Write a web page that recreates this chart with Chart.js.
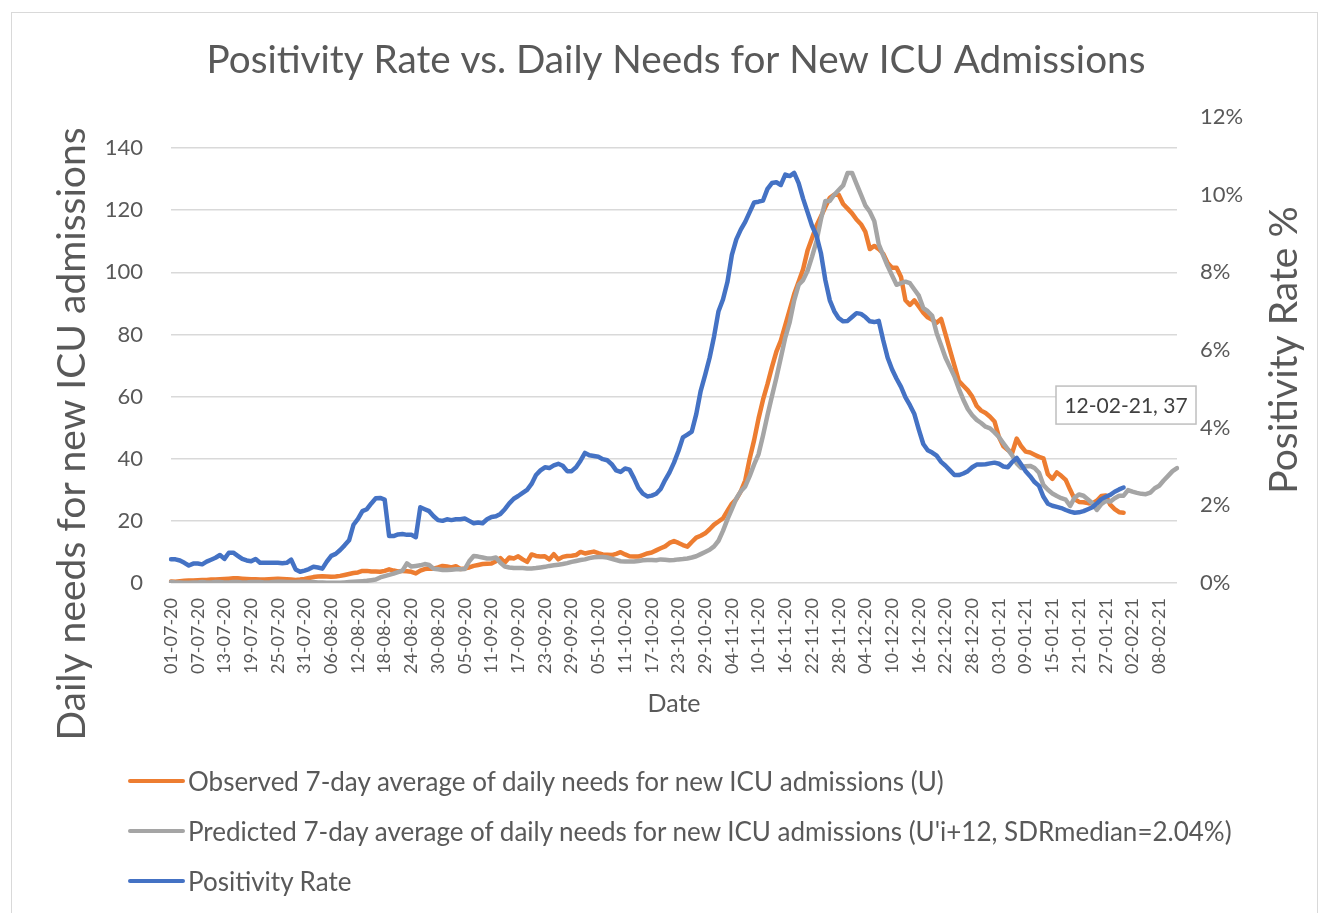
<!DOCTYPE html>
<html>
<head>
<meta charset="utf-8">
<script src="https://cdn.jsdelivr.net/npm/chart.js@4.4.1/dist/chart.umd.min.js"></script>
<style>
  html, body { margin: 0; padding: 0; background: #fff; }
  #wrap { position: relative; width: 1329px; height: 913px; overflow: hidden; }
  #frame { position: absolute; left: 11px; top: 12px; width: 1307px; height: 940px; border: 1.5px solid #d9d9d9; box-sizing: border-box; }
  #myChart { position: absolute; left: 0; top: 0; }
  #legend { position: absolute; left: 128px; top: 756px; font-family: Lato, sans-serif; font-size: 26px; color: #595959; }
  .item { height: 50px; display: flex; align-items: center; white-space: nowrap; }
  .swatch { width: 57px; height: 4px; border-radius: 2px; margin-right: 3px; }
</style>
</head>
<body>
<div id="wrap">
  <div id="frame"></div>
  <canvas id="myChart" width="1329" height="913"></canvas>
  <div id="legend"></div>
</div>
<script>
// dates: one per day, 01-07-20 .. 12-02-21
let dates = [];
for (let i = 0; i < 227; i++) {
  const d = new Date(Date.UTC(2020, 6, 1 + i));
  const dd = String(d.getUTCDate()).padStart(2, "0");
  const mm = String(d.getUTCMonth() + 1).padStart(2, "0");
  const yy = String(d.getUTCFullYear()).slice(2);
  dates.push(dd + "-" + mm + "-" + yy);
}

let seriesNames = [
  "Observed 7-day average of daily needs for new ICU admissions (U)",
  "Predicted 7-day average of daily needs for new ICU admissions (U'i+12, SDRmedian=2.04%)",
  "Positivity Rate",
];

// observed ICU needs (01-07-20 .. 31-01-21)
let observed = [
  0.5, 0.4, 0.6, 0.7, 0.8, 0.8, 0.9, 1.0, 1.0, 1.1,
  1.1, 1.2, 1.3, 1.4, 1.5, 1.5, 1.4, 1.3, 1.2, 1.2,
  1.1, 1.1, 1.2, 1.3, 1.4, 1.3, 1.2, 1.1, 1.0, 1.1,
  1.3, 1.6, 1.9, 2.1, 2.2, 2.1, 2.0, 2.1, 2.3, 2.6,
  2.9, 3.2, 3.4, 3.9, 3.9, 3.7, 3.7, 3.6, 3.9, 4.4,
  4.0, 3.7, 3.9, 3.8, 3.6, 3.1, 4.0, 4.5, 4.7, 4.6,
  5.0, 5.5, 5.3, 5.0, 5.4, 4.5, 4.7, 5.0, 5.5, 5.8,
  6.1, 6.2, 6.3, 7.0, 8.0, 6.6, 8.2, 7.9, 8.6, 7.6,
  6.8, 9.2, 8.7, 8.5, 8.6, 7.6, 9.3, 7.6, 8.4, 8.7,
  8.8, 9.0, 10.0, 9.5, 9.8, 10.1, 9.6, 9.2, 9.1, 9.0,
  9.4, 9.9, 9.2, 8.6, 8.5, 8.5, 9.0, 9.5, 9.8, 10.5,
  11.2, 11.8, 12.9, 13.5, 12.9, 12.2, 11.7, 13.2, 14.6, 15.2,
  16.0, 17.3, 18.8, 19.8, 20.8, 23.2, 25.5, 27.0, 29.5, 33.0,
  40, 46, 53, 59, 64, 69.5, 74.5, 78, 83, 88,
  93, 97, 101, 107, 111, 115, 118, 121, 124, 125,
  125, 122, 120.5, 119, 117, 115.5, 113, 107.5, 108.5, 107.5,
  106, 103, 101.5, 101.5, 98.5, 91, 89.5, 91, 89, 87,
  85.5, 84.7, 83.8, 85, 80, 75, 70, 65, 63.5, 62,
  60, 57, 55.5, 54.7, 53.5, 52, 47, 44, 42.8, 42,
  46.5, 44, 42.3, 42, 41.3, 40.6, 40.1, 35, 33.5, 35.6,
  34.5, 33.2, 30, 27, 26.1, 26, 25.7, 25.6, 26.5, 28,
  28.2, 25.2, 23.8, 22.8, 22.6,
];

// predicted ICU needs (01-07-20 .. 12-02-21)
let predicted = [
  0.3, 0.2, 0.2, 0.1, 0.1, 0.2, 0.2, 0.3, 0.2, 0.2,
  0.3, 0.3, 0.2, 0.2, 0.3, 0.3, 0.2, 0.2, 0.3, 0.3,
  0.3, 0.2, 0.2, 0.3, 0.4, 0.4, 0.3, 0.3, 0.3, 0.4,
  0.4, 0.3, 0.3, 0.2, 0.2, 0.1, 0.1, 0.1, 0.1, 0.2,
  0.3, 0.4, 0.5, 0.6, 0.7, 0.9, 1.1, 1.8, 2.2, 2.6,
  3.0, 3.5, 4.0, 6.3, 5.3, 5.5, 5.7, 6.1, 5.8, 4.6,
  4.4, 4.2, 4.2, 4.3, 4.4, 4.4, 4.5, 7.0, 8.7, 8.5,
  8.2, 7.9, 7.9, 8.2, 6.5, 5.3, 5.0, 4.8, 4.8, 4.8,
  4.7, 4.7, 4.8, 5.0, 5.2, 5.5, 5.7, 5.9, 6.1, 6.4,
  6.8, 7.1, 7.4, 7.6, 8.0, 8.3, 8.4, 8.4, 8.2, 7.8,
  7.4, 7.0, 6.9, 6.9, 6.9, 7.1, 7.3, 7.4, 7.4, 7.3,
  7.6, 7.5, 7.3, 7.4, 7.6, 7.7, 7.9, 8.2, 8.6, 9.3,
  10.0, 10.7, 11.8, 13.6, 16.8, 20.5, 23.8, 27.2, 29.5, 31.1,
  34.4, 38.2, 41.5, 47.5, 54.0, 60.1, 66.1, 72.5, 79, 84,
  91, 96, 97.5, 100.5, 105, 110, 117, 123, 123, 125,
  126.5, 128, 132, 132, 128.5, 125, 121.5, 119.5, 116.5, 109,
  105.5, 102, 99, 96, 96.5, 97, 96.5, 94.5, 92.5, 88.5,
  87.5, 86, 80.5, 76.5, 72.5, 69.5, 66.5, 62.5, 59, 56,
  54, 52.5, 51.5, 50.3, 49.8, 48.5, 47, 45, 43, 41,
  38.5, 37, 37.6, 37.7, 37, 35.5, 31.5, 30, 28.8, 28,
  27.3, 26.8, 24.8, 27.5, 28.5, 28.1, 26.9, 25.7, 23.5, 25.4,
  26.4, 26.2, 27.3, 28.1, 28.1, 29.9, 29.4, 29, 28.7, 28.6,
  29.1, 30.5, 31.3, 33, 34.5, 36, 37,
];

// positivity rate in % (01-07-20 .. 31-01-21)
let positivity = [
  0.61, 0.61, 0.58, 0.52, 0.45, 0.50, 0.50, 0.48, 0.55, 0.60,
  0.65, 0.72, 0.62, 0.78, 0.78, 0.70, 0.62, 0.58, 0.56, 0.62,
  0.52, 0.52, 0.52, 0.52, 0.52, 0.51, 0.52, 0.60, 0.35, 0.29,
  0.32, 0.36, 0.42, 0.40, 0.37, 0.55, 0.70, 0.75, 0.85, 0.97,
  1.10, 1.50, 1.65, 1.85, 1.90, 2.05, 2.18, 2.19, 2.15, 1.21,
  1.21, 1.25, 1.26, 1.24, 1.24, 1.18, 1.95, 1.90, 1.85, 1.72,
  1.62, 1.60, 1.64, 1.62, 1.64, 1.64, 1.66, 1.60, 1.54, 1.56,
  1.54, 1.64, 1.70, 1.72, 1.78, 1.90, 2.05, 2.17, 2.24, 2.32,
  2.40, 2.55, 2.78, 2.90, 2.98, 2.96, 3.03, 3.07, 3.02, 2.88,
  2.88, 2.98, 3.15, 3.35, 3.29, 3.27, 3.25, 3.19, 3.16, 3.06,
  2.90, 2.86, 2.95, 2.92, 2.70, 2.45, 2.30, 2.23, 2.25, 2.30,
  2.42, 2.65, 2.85, 3.10, 3.40, 3.75, 3.82, 3.90, 4.35, 4.95,
  5.36, 5.80, 6.35, 7.00, 7.30, 7.75, 8.45, 8.85, 9.10, 9.30,
  9.55, 9.80, 9.82, 9.85, 10.15, 10.30, 10.32, 10.25, 10.52, 10.48,
  10.56, 10.30, 9.90, 9.55, 9.20, 8.95, 8.50, 7.80, 7.28, 7.00,
  6.82, 6.74, 6.75, 6.85, 6.95, 6.93, 6.85, 6.74, 6.72, 6.75,
  6.25, 5.80, 5.50, 5.26, 5.05, 4.78, 4.58, 4.35, 3.95, 3.58,
  3.42, 3.36, 3.28, 3.12, 3.02, 2.90, 2.78, 2.78, 2.82, 2.88,
  2.98, 3.05, 3.05, 3.06, 3.08, 3.10, 3.07, 3.00, 2.98, 3.12,
  3.22, 3.05, 2.88, 2.75, 2.60, 2.50, 2.22, 2.04, 1.99, 1.96,
  1.93, 1.88, 1.84, 1.81, 1.82, 1.85, 1.90, 1.95, 2.05, 2.16,
  2.22, 2.27, 2.35, 2.41, 2.46,
];

let colorHex = ["#ED7D31", "#A5A5A5", "#4472C4"];
let textColor = "#595959";
let fontFamily = "Lato, 'Open Sans', sans-serif";

// legend
const legendBox = document.getElementById("legend");
seriesNames.forEach((name, i) => {
  const row = document.createElement("div");
  row.className = "item";
  row.innerHTML = '<span class="swatch" style="background:' + colorHex[i] + '"></span><span>' + name + "</span>";
  legendBox.appendChild(row);
});

// axis titles drawn bottom-to-top, plus the data label box
const extrasPlugin = {
  id: "extras",
  afterDatasetsDraw(chart) {
    const ctx = chart.ctx;
    const meta = chart.getDatasetMeta(1);
    const last = meta.data[meta.data.length - 1];
    const text = dates[predicted.length - 1] + ", " + predicted[predicted.length - 1];
    const w = 140, h = 38;
    const cx = last.x - 51, cy = last.y - 63;
    ctx.save();
    ctx.fillStyle = "#ffffff";
    ctx.fillRect(cx - w / 2, cy - h / 2, w, h);
    ctx.strokeStyle = "#bfbfbf";
    ctx.lineWidth = 1.5;
    ctx.strokeRect(cx - w / 2, cy - h / 2, w, h);
    ctx.fillStyle = "#404040";
    ctx.font = "21px " + fontFamily;
    ctx.textAlign = "center";
    ctx.textBaseline = "middle";
    ctx.fillText(text, cx, cy + 1);
    ctx.restore();
  },
  afterDraw(chart) {
    const ctx = chart.ctx;
    ctx.save();
    ctx.fillStyle = textColor;
    ctx.font = "39px " + fontFamily;
    ctx.textAlign = "center";
    ctx.textBaseline = "alphabetic";
    ctx.translate(85, 434);
    ctx.rotate(-Math.PI / 2);
    ctx.fillText("Daily needs for new ICU admissions", 0, 0);
    ctx.restore();
    ctx.save();
    ctx.fillStyle = textColor;
    ctx.font = "39px " + fontFamily;
    ctx.textAlign = "center";
    ctx.textBaseline = "alphabetic";
    ctx.translate(1297, 350);
    ctx.rotate(-Math.PI / 2);
    ctx.fillText("Positivity Rate %", 0, 0);
    ctx.restore();
  },
};

let ctx = document.getElementById("myChart").getContext("2d");

let myChart = new Chart(ctx, {
  type: "line",
  data: {
    labels: dates,
    datasets: [
      { label: seriesNames[0], data: observed, borderColor: colorHex[0], yAxisID: "y", order: 2 },
      { label: seriesNames[1], data: predicted, borderColor: colorHex[1], yAxisID: "y", order: 1 },
      { label: seriesNames[2], data: positivity, borderColor: colorHex[2], yAxisID: "y1", order: 0 },
    ],
  },
  options: {
    responsive: false,
    animation: false,
    events: [],
    layout: { padding: { left: 23, right: 0, top: 0, bottom: 0 } },
    elements: {
      line: { borderWidth: 4.5, tension: 0, borderCapStyle: "round", borderJoinStyle: "round", fill: false },
      point: { radius: 0 },
    },
    plugins: {
      legend: { display: false },
      tooltip: { enabled: false },
      title: {
        display: true,
        text: "Positivity Rate vs. Daily Needs for New ICU Admissions",
        color: textColor,
        font: { family: fontFamily, size: 38.7, weight: "normal", lineHeight: 1.2 },
        padding: { top: 37, bottom: 33.6 },
      },
    },
    scales: {
      x: {
        type: "category",
        offset: false,
        grid: { display: false, drawTicks: false },
        border: { display: false },
        afterBuildTicks: (scale) => {
          scale.ticks = scale.ticks.filter((t, i) => i % 6 === 0);
        },
        afterFit: (scale) => { scale.height = 330; },
        ticks: {
          autoSkip: false,
          maxRotation: 90,
          minRotation: 90,
          padding: 15,
          color: textColor,
          font: { family: fontFamily, size: 18 },
        },
        title: {
          display: true,
          text: "Date",
          color: textColor,
          font: { family: fontFamily, size: 25, lineHeight: 1.2 },
          padding: { top: 0, bottom: 194 },
        },
      },
      y: {
        position: "left",
        min: 0,
        max: 150,
        afterFit: (scale) => { scale.width = 148; },
        grid: { color: "#d9d9d9", lineWidth: 1.5, drawTicks: false },
        border: { display: false },
        ticks: {
          stepSize: 20,
          includeBounds: false,
          padding: 28,
          color: textColor,
          font: { family: fontFamily, size: 22 },
        },
      },
      y1: {
        position: "right",
        min: 0,
        max: 12,
        afterFit: (scale) => { scale.width = 152; },
        grid: { display: false, drawTicks: false },
        border: { display: false },
        ticks: {
          stepSize: 2,
          padding: 23,
          color: textColor,
          font: { family: fontFamily, size: 22 },
          callback: (v) => v + "%",
        },
      },
    },
  },
  plugins: [extrasPlugin],
});
</script>
</body>
</html>
